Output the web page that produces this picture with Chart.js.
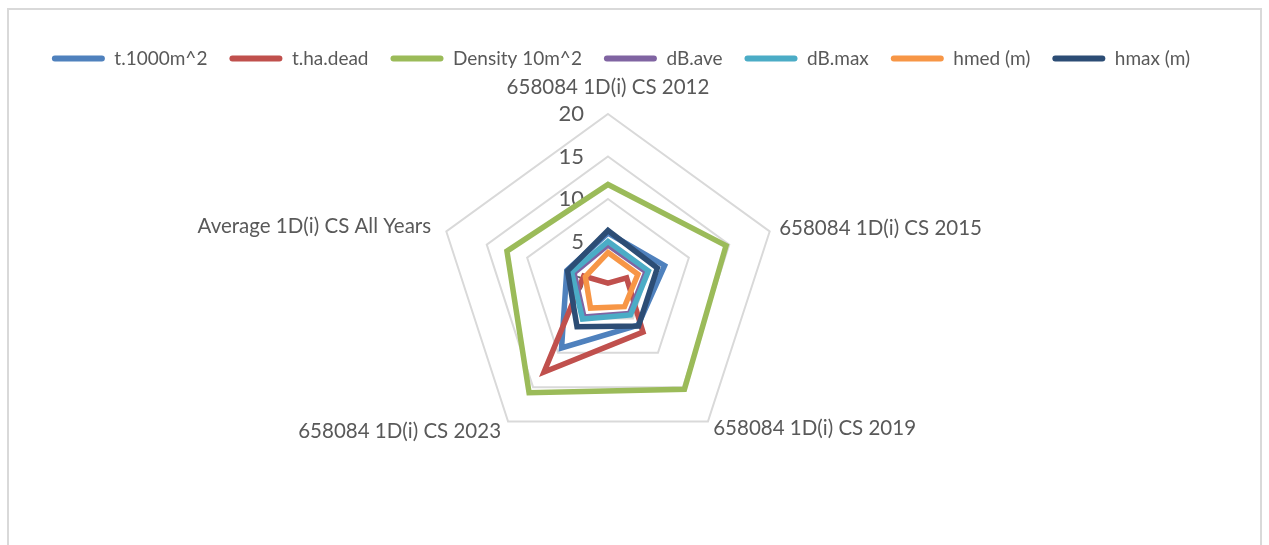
<!DOCTYPE html>
<html>
<head>
<meta charset="utf-8">
<script src="https://cdn.jsdelivr.net/npm/chart.js@4/dist/chart.umd.min.js"></script>
<style>
  html, body { margin: 0; padding: 0; background: #fff; }
  #frame { position: absolute; left: 7px; top: 8px; width: 1251px; height: 600px; border: 2px solid #d9d9d9; }
  #wrap { position: absolute; left: 0; top: 0; width: 1269px; height: 545px; }
</style>
</head>
<body>
<div id="frame"></div>
<div id="wrap"><canvas id="c" width="1269" height="545"></canvas></div>
<script>
const categories = ['658084 1D(i) CS 2012', '658084 1D(i) CS 2015', '658084 1D(i) CS 2019', '658084 1D(i) CS 2023', 'Average 1D(i) CS All Years'];
const seriesNames = ['t.1000m^2', 't.ha.dead', 'Density 10m^2', 'dB.ave', 'dB.max', 'hmed (m)', 'hmax (m)'];
const t1000m2 = [6.0, 7.0, 6.0, 9.3, 5.1];
const thaDead = [0.1, 2.3, 7.0, 12.8, 3.0];
const density10m2 = [11.7, 14.6, 15.3, 15.8, 12.5];
const dBave = [4.6, 4.7, 4.3, 4.8, 4.2];
const dBmax = [5.0, 5.0, 4.5, 5.1, 4.5];
const hmed = [3.7, 3.7, 3.3, 3.5, 2.8];
const hmax = [6.3, 6.1, 6.1, 6.2, 5.0];
const tickValues = [0, 5, 10, 15, 20];
const colors = ['#4F81BD', '#C0504D', '#9BBB59', '#8064A2', '#4BACC6', '#F79646', '#2C4D75'];

const seriesData = [t1000m2, thaDead, density10m2, dBave, dBmax, hmed, hmax];
const FONT = 'Lato, "Open Sans", sans-serif';
const TEXT = '#595959';
// style: distance of each category label beyond the outer ring, and its alignment
const labelGap = [26.5, 10, 9, 12, 16];
const labelAlign = ['center', 'left', 'left', 'right', 'right'];

const labelPlugin = {
  id: 'radarText',
  beforeDatasetsDraw(chart) {
    const s = chart.scales.r;
    const ctx = chart.ctx;
    ctx.save();
    ctx.fillStyle = TEXT;
    ctx.textBaseline = 'middle';
    ctx.font = '22px ' + FONT;
    ctx.textAlign = 'right';
    tickValues.forEach(v => {
      const d = s.getDistanceFromCenterForValue(v);
      ctx.fillText(String(v), s.xCenter - 24, s.yCenter - d);
    });
    ctx.font = '20.5px ' + FONT;
    categories.forEach((c, i) => {
      const p = s.getPointPosition(i, s.drawingArea + labelGap[i]);
      ctx.textAlign = labelAlign[i];
      ctx.fillText(c, p.x, p.y);
    });
    ctx.restore();
  }
};

new Chart(document.getElementById('c'), {
  type: 'radar',
  data: {
    labels: categories,
    datasets: seriesNames.map((n, i) => ({
      label: n,
      data: seriesData[i],
      borderColor: colors[i],
      backgroundColor: colors[i],
      borderWidth: 5.5,
      fill: false,
      pointRadius: 0,
      pointHoverRadius: 0,
      order: seriesNames.length - 1 - i
    }))
  },
  options: {
    responsive: false,
    animation: false,
    layout: { padding: { top: 27, left: 0, right: 27, bottom: 90.5 } },
    plugins: {
      legend: {
        position: 'top',
        labels: {
          boxWidth: 53, boxHeight: 6, useBorderRadius: true, borderRadius: 3,
          font: { family: FONT, size: 19 }, color: TEXT, padding: 22,
          sort: (a, b) => a.datasetIndex - b.datasetIndex,
          generateLabels: (chart) => Chart.defaults.plugins.legend.labels.generateLabels(chart)
            .map(l => Object.assign(l, { lineWidth: 0 }))
        }
      },
      title: { display: true, text: ' ', position: 'top', weight: 500, font: { size: 1, lineHeight: 1 }, padding: { top: 0, bottom: 35.5 } },
      subtitle: { display: true, text: ' ', position: 'right', fullSize: false, font: { size: 1, lineHeight: 1 }, padding: { top: 0, bottom: 25 } },
      tooltip: { enabled: false }
    },
    scales: {
      r: {
        min: 0, max: 20,
        ticks: { display: false, stepSize: 5 },
        grid: { color: '#d9d9d9', lineWidth: 2 },
        angleLines: { display: false },
        pointLabels: { display: false }
      }
    }
  },
  plugins: [labelPlugin]
});
</script>
</body>
</html>
